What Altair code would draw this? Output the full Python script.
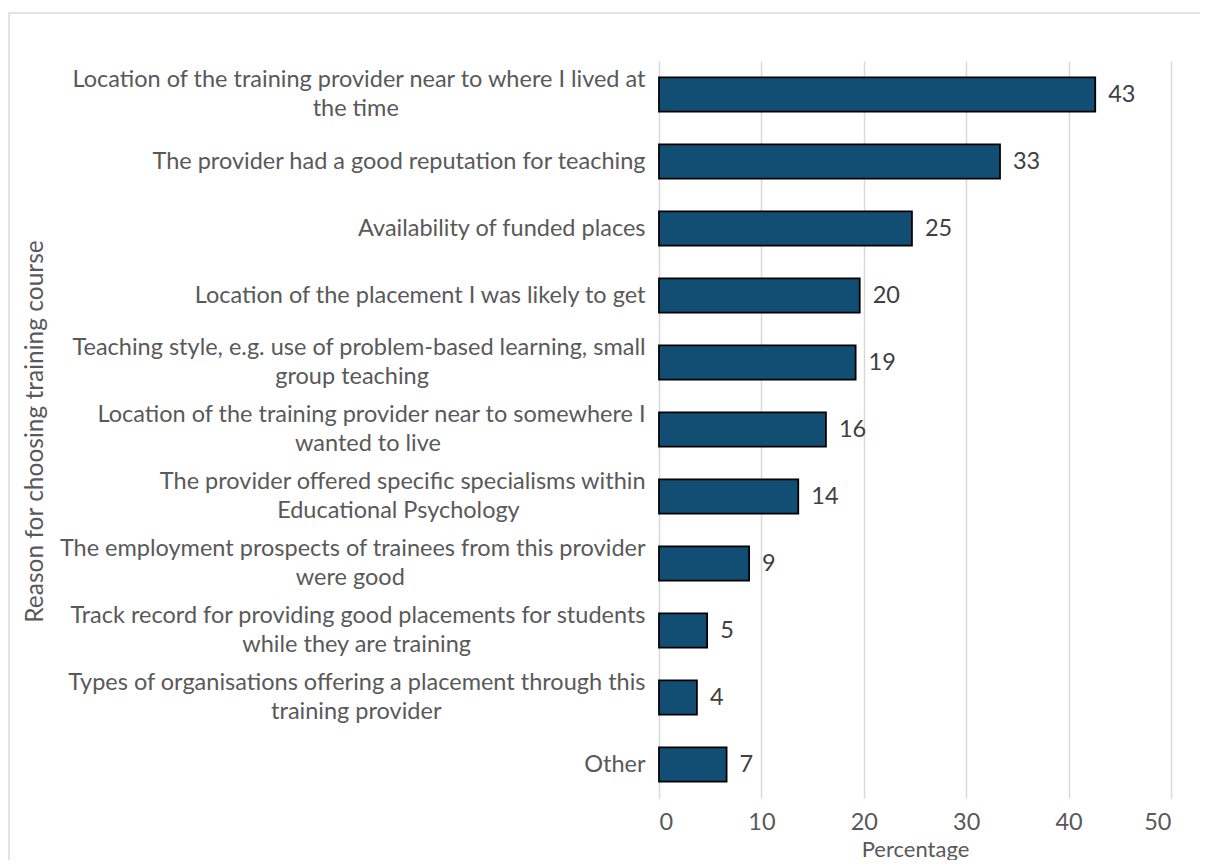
import altair as alt
import pandas as pd

# ---- data ----
reason_line1 = [
    "Location of the training provider near to where I lived at",
    "The provider had a good reputation for teaching",
    "Availability of funded places",
    "Location of the placement I was likely to get",
    "Teaching style, e.g. use of problem-based learning, small",
    "Location of the training provider near to somewhere I",
    "The provider offered specific specialisms within",
    "The employment prospects of trainees from this provider",
    "Track record for providing good placements for students",
    "Types of organisations offering a placement through this",
    "Other",
]
reason_line2 = [
    "the time",
    "",
    "",
    "",
    "group teaching",
    "wanted to live",
    "Educational Psychology",
    "were good",
    "while they are training",
    "training provider",
    "",
]
percentages = [42.6, 33.3, 24.7, 19.6, 19.2, 16.3, 13.6, 8.8, 4.7, 3.7, 6.6]
x_ticks = [0, 10, 20, 30, 40, 50]

# ---- approximate glyph widths (Calibri-like, units of 1/2048 em) used to centre wrapped lines ----
CAL = {" ": 463, "a": 981, "b": 1076, "c": 866, "d": 1076, "e": 1019, "f": 625, "g": 964,
       "h": 1076, "i": 470, "j": 490, "k": 931, "l": 470, "m": 1636, "n": 1076, "o": 1080,
       "p": 1076, "q": 1076, "r": 714, "s": 801, "t": 686, "u": 1076, "v": 925, "w": 1464,
       "x": 887, "y": 927, "z": 809, "A": 1185, "B": 1114, "C": 1092, "D": 1260, "E": 1000,
       "F": 941, "G": 1292, "H": 1276, "I": 516, "L": 861, "O": 1356, "P": 1058, "T": 998,
       "W": 1822, ".": 517, ",": 511, "-": 627}


def em_width(s):
    return sum(CAL.get(c, 1000) for c in s) / 2048.0


SPACE_EM = 0.237

labels = []
for l1, l2 in zip(reason_line1, reason_line2):
    if l2:
        shift = (em_width(l1) - em_width(l2)) / 2
        n = int(round(shift / SPACE_EM))
        # trailing no-break spaces centre the second line; a zero-width space keeps them from being trimmed
        labels.append(l1 + "|" + l2 + "\u00a0" * n + "\u200b")
    else:
        labels.append(l1)

df = pd.DataFrame({"label": labels, "value": percentages})

FONT = "Lato"
FS = 23.5
TFS = 24.5
TXT = "#595959"

y_enc = alt.Y(
    "label:N",
    sort=labels,
    scale=alt.Scale(paddingInner=0.49, paddingOuter=0.245),
    axis=alt.Axis(
        title="Reason for choosing training course",
        labelExpr="split(datum.label, '|')",
        labelLimit=900,
        labelLineHeight=29,
        labelPadding=14,
        labelAlign="right",
        labelBaseline="middle",
        labelOffset={"condition": {"test": "indexof(datum.value, '|') >= 0", "value": -14.5}, "value": 0},
        labelFont=FONT,
        labelFontSize=FS,
        labelColor=TXT,
        domain=False,
        ticks=False,
        grid=False,
        titleFont=FONT,
        titleFontSize=TFS,
        titleFontWeight="normal",
        titleColor=TXT,
        titleAngle=-90,
        titleAlign="center",
        titleBaseline="middle",
        titleX=-624,
        titleY=370,
    ),
)

x_enc = alt.X(
    "value:Q",
    scale=alt.Scale(domain=[0, 50], nice=False),
    axis=alt.Axis(
        values=x_ticks,
        title="Percentage",
        grid=True,
        gridColor="#D9D9D9",
        gridWidth=1.5,
        domain=False,
        ticks=False,
        labelFont=FONT,
        labelFontSize=FS,
        labelColor=TXT,
        labelPadding=12,
        titleFont=FONT,
        titleFontSize=22,
        titleFontWeight="normal",
        titleColor=TXT,
        titleAlign="center",
        titleBaseline="middle",
        titleY=51,
    ),
)

base = alt.Chart(df)

bars = base.mark_bar(color="#124E73", stroke="#000000", strokeWidth=1.8).encode(
    x=x_enc, y=y_enc
)

values_text = base.mark_text(
    align="left", baseline="middle", dx=13, font=FONT, fontSize=FS, color="#404040"
).encode(
    x=alt.X("value:Q"),
    y=alt.Y("label:N", sort=labels),
    text=alt.Text("value:Q", format=".0f"),
)

border = alt.Chart(pd.DataFrame({"k": [0]})).mark_rect(
    fillOpacity=0, stroke="#D9D9D9", strokeWidth=1.5
).encode(
    x=alt.value(-650), x2=alt.value(620), y=alt.value(-48), y2=alt.value(900)
)

chart = (
    alt.layer(border, bars, values_text)
    .properties(
        width=512,
        height=737,
        padding={"left": 651, "top": 53, "right": 29, "bottom": 62},
        autosize=alt.AutoSizeParams(type="none"),
        background="white",
    )
    .configure_view(strokeWidth=0)
)

chart.save("out.html", embed_options={"renderer": "svg", "actions": False})
